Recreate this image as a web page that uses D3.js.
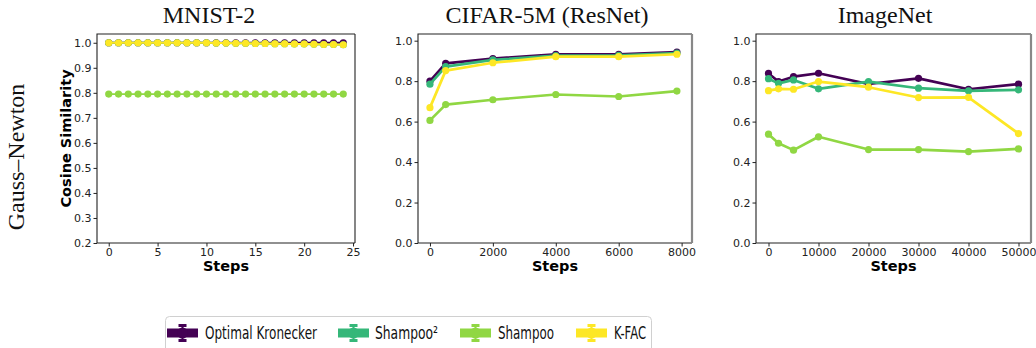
<!DOCTYPE html>
<html>
<head>
<meta charset="utf-8">
<script src="https://cdn.jsdelivr.net/npm/d3@7"></script>
<style>
  body { margin: 0; background: #fff; }
  .tick text { font-family: "DejaVu Sans", sans-serif; fill: #222; }
  .tick line { stroke: #222; }
</style>
</head>
<body>
<svg id="chart" width="1036" height="348"></svg>
<script>
// Series (drawn in this order)
var SERIES = ["Optimal Kronecker", "Shampoo\u00b2", "Shampoo", "K-FAC"];
var COLORS = ["#440154", "#35b779", "#90d743", "#fde725"];

// MNIST-2
var mnistSteps = [0, 1, 2, 3, 4, 5, 6, 7, 8, 9, 10, 11, 12, 13, 14, 15, 16, 17, 18, 19, 20, 21, 22, 23, 24];
var mnistOptimal = [1.0, 1.0, 1.0, 1.0, 1.0, 1.0, 1.0, 1.0, 1.0, 1.0, 1.0, 1.0, 1.0, 1.0, 1.0, 1.0, 1.0, 1.0, 1.0, 1.0, 1.0, 1.0, 1.0, 1.0, 1.0];
var mnistShampoo2 = [1.0, 1.0, 1.0, 1.0, 1.0, 1.0, 1.0, 1.0, 1.0, 1.0, 1.0, 0.999, 0.999, 0.998, 0.998, 0.997, 0.997, 0.996, 0.996, 0.995, 0.995, 0.994, 0.993, 0.993, 0.992];
var mnistShampoo = [0.795, 0.795, 0.795, 0.795, 0.795, 0.795, 0.795, 0.795, 0.795, 0.795, 0.795, 0.795, 0.795, 0.795, 0.795, 0.795, 0.795, 0.795, 0.795, 0.795, 0.795, 0.795, 0.795, 0.795, 0.795];
var mnistKfac = [1.0, 1.0, 1.0, 1.0, 1.0, 1.0, 1.0, 1.0, 1.0, 1.0, 1.0, 0.999, 0.999, 0.998, 0.998, 0.997, 0.997, 0.996, 0.996, 0.995, 0.995, 0.994, 0.993, 0.993, 0.992];
var mnistXTicks = [0, 5, 10, 15, 20, 25];
var mnistYTicks = [0.2, 0.3, 0.4, 0.5, 0.6, 0.7, 0.8, 0.9, 1.0];

// CIFAR-5M (ResNet)
var cifarSteps = [0, 500, 2000, 4000, 6000, 7850];
var cifarOptimal = [0.80, 0.888, 0.911, 0.933, 0.933, 0.944];
var cifarShampoo2 = [0.785, 0.872, 0.905, 0.926, 0.928, 0.938];
var cifarShampoo = [0.606, 0.684, 0.708, 0.734, 0.724, 0.751];
var cifarKfac = [0.669, 0.852, 0.891, 0.921, 0.921, 0.933];
var cifarXTicks = [0, 2000, 4000, 6000, 8000];

// ImageNet
var imagenetSteps = [0, 2000, 5000, 10000, 20000, 30000, 40000, 50000];
var imagenetOptimal = [0.838, 0.798, 0.822, 0.839, 0.786, 0.814, 0.760, 0.785];
var imagenetShampoo2 = [0.812, 0.789, 0.806, 0.762, 0.798, 0.765, 0.752, 0.757];
var imagenetShampoo = [0.538, 0.493, 0.459, 0.525, 0.462, 0.462, 0.452, 0.465];
var imagenetKfac = [0.753, 0.762, 0.760, 0.798, 0.770, 0.719, 0.720, 0.541];
var imagenetXTicks = [0, 10000, 20000, 30000, 40000, 50000];

var bigYTicks = [0.0, 0.2, 0.4, 0.6, 0.8, 1.0];

var svg = d3.select("#chart");

var panels = [
  { title: "MNIST-2", titleX: 209, left: 97, right: 355, xDomain: [-1.2, 25.2], yDomain: [0.2, 1.035],
    steps: mnistSteps, series: [mnistOptimal, mnistShampoo2, mnistShampoo, mnistKfac],
    xTicks: mnistXTicks, yTicks: mnistYTicks, lw: 1.8, r: 3.6, ylabel: true, rightGrey: false },
  { title: "CIFAR-5M (ResNet)", titleX: 547, left: 418, right: 692, xDomain: [-380, 8330], yDomain: [0, 1.033],
    steps: cifarSteps, series: [cifarOptimal, cifarShampoo2, cifarShampoo, cifarKfac],
    xTicks: cifarXTicks, yTicks: bigYTicks, lw: 2.7, r: 3.6, ylabel: false, rightGrey: true },
  { title: "ImageNet", titleX: 885, left: 756, right: 1031, xDomain: [-2500, 52500], yDomain: [0, 1.033],
    steps: imagenetSteps, series: [imagenetOptimal, imagenetShampoo2, imagenetShampoo, imagenetKfac],
    xTicks: imagenetXTicks, yTicks: bigYTicks, lw: 2.7, r: 3.6, ylabel: false, rightGrey: true }
];

var TOP = 34, BOTTOM = 243;

var drawPanel = function(p) {
  var x = d3.scaleLinear().domain(p.xDomain).range([p.left, p.right]);
  var y = d3.scaleLinear().domain(p.yDomain).range([BOTTOM, TOP]);
  var g = svg.append("g");

  // Axes
  g.append("g").attr("transform", "translate(0," + BOTTOM + ")")
    .call(d3.axisBottom(x).tickValues(p.xTicks).tickSize(3.5).tickPadding(1.5).tickFormat(d3.format("d")))
    .call(function(a) { a.select(".domain").remove(); })
    .selectAll("text").attr("font-size", 11);
  g.append("g").attr("transform", "translate(" + p.left + ",0)")
    .call(d3.axisLeft(y).tickValues(p.yTicks).tickSize(3.5).tickPadding(2).tickFormat(d3.format(".1f")))
    .call(function(a) { a.select(".domain").remove(); })
    .selectAll("text").attr("font-size", 11);

  // Lines and markers
  var line = d3.line()
    .x(function(d, i) { return x(p.steps[i]); })
    .y(function(d) { return y(d); });
  p.series.forEach(function(vals, k) {
    g.append("path").datum(vals)
      .attr("d", line)
      .attr("fill", "none")
      .attr("stroke", COLORS[k])
      .attr("stroke-width", p.lw)
      .attr("stroke-linejoin", "round");
    g.append("g").selectAll("circle").data(vals).enter()
      .append("circle")
      .attr("cx", function(d, i) { return x(p.steps[i]); })
      .attr("cy", function(d) { return y(d); })
      .attr("r", p.r)
      .attr("fill", COLORS[k]);
  });

  // Spines
  g.append("path")
    .attr("d", "M" + p.right + "," + TOP + "H" + p.left + "V" + BOTTOM + "H" + p.right)
    .attr("fill", "none").attr("stroke", "#222").attr("stroke-width", 1.1);
  g.append("line")
    .attr("x1", p.right).attr("x2", p.right).attr("y1", TOP).attr("y2", BOTTOM)
    .attr("stroke", p.rightGrey ? "#888" : "#222")
    .attr("stroke-width", p.rightGrey ? 2.2 : 1.1);

  // Title
  g.append("text")
    .attr("x", p.titleX).attr("y", 23)
    .attr("text-anchor", "middle")
    .attr("font-family", "Liberation Serif, Times New Roman, serif")
    .attr("font-size", 24)
    .attr("fill", "#111")
    .text(p.title);

  // X label
  g.append("text")
    .attr("x", (p.left + p.right) / 2).attr("y", 271)
    .attr("text-anchor", "middle")
    .attr("font-family", "DejaVu Sans, sans-serif")
    .attr("font-weight", "bold")
    .attr("font-size", 14.5)
    .text("Steps");

  if (p.ylabel) {
    g.append("text")
      .attr("transform", "translate(71," + (TOP + BOTTOM) / 2 + ") rotate(-90)")
      .attr("text-anchor", "middle")
      .attr("font-family", "DejaVu Sans, sans-serif")
      .attr("font-weight", "bold")
      .attr("font-size", 14.5)
      .text("Cosine Similarity");
  }
};

panels.forEach(drawPanel);

// Row label
svg.append("text")
  .attr("transform", "translate(24,157) rotate(-90)")
  .attr("text-anchor", "middle")
  .attr("font-family", "Liberation Serif, Times New Roman, serif")
  .attr("font-size", 24)
  .attr("fill", "#111")
  .text("Gauss\u2013Newton");

// Legend
var legendItems = [
  { x: 167, textX: 205, w: 112 },
  { x: 338, textX: 375, w: 63 },
  { x: 460, textX: 498, w: 56 },
  { x: 576, textX: 614, w: 32 }
];
var LY = 333;
var legend = svg.append("g");
legend.append("rect")
  .attr("x", 165.5).attr("y", 316.5).attr("width", 486).attr("height", 45).attr("rx", 4)
  .attr("fill", "#fff").attr("stroke", "#d0d0d0");
legendItems.forEach(function(it, k) {
  var c = COLORS[k];
  var cx = it.x + 15.5;
  legend.append("rect")
    .attr("x", it.x).attr("y", LY - 4.5).attr("width", 31).attr("height", 9).attr("fill", c);
  legend.append("circle").attr("cx", cx).attr("cy", LY).attr("r", 5.5).attr("fill", c);
  legend.append("rect").attr("x", cx - 4).attr("y", LY - 9).attr("width", 8).attr("height", 3).attr("fill", c);
  legend.append("rect").attr("x", cx - 4).attr("y", LY + 6).attr("width", 8).attr("height", 3).attr("fill", c);
  legend.append("rect").attr("x", cx - 1).attr("y", LY - 8).attr("width", 2).attr("height", 16).attr("fill", c);
  legend.append("text")
    .attr("x", it.textX).attr("y", LY + 6)
    .attr("font-family", "DejaVu Sans, sans-serif")
    .attr("font-size", 17)
    .attr("fill", "#111")
    .attr("textLength", it.w)
    .attr("lengthAdjust", "spacingAndGlyphs")
    .text(SERIES[k]);
});
</script>
</body>
</html>
